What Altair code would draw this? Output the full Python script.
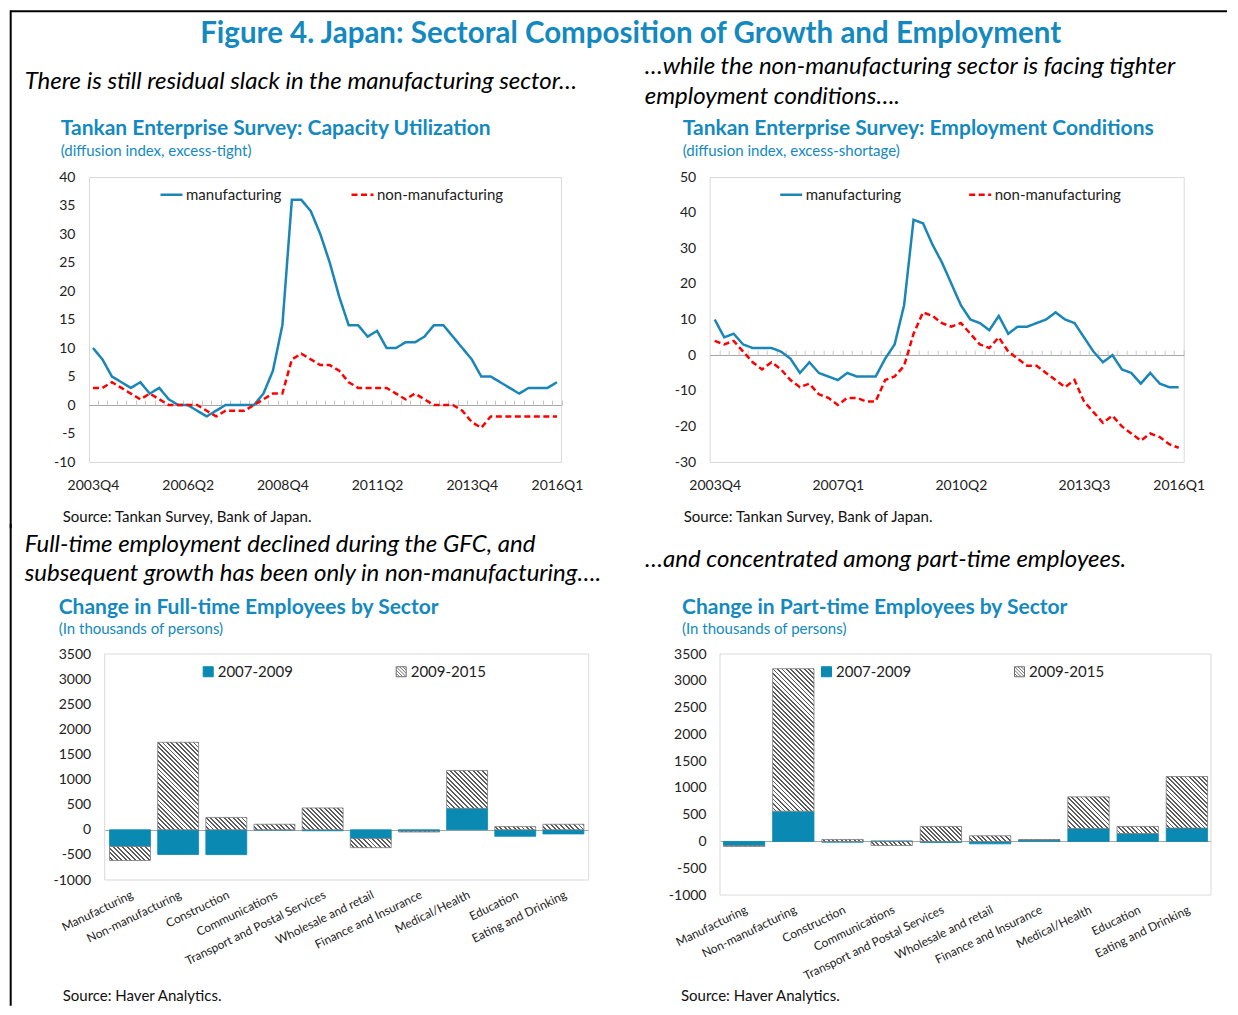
import altair as alt
import pandas as pd

# ---------------- data ----------------
quarters = ["2003Q4",
    "2004Q1", "2004Q2", "2004Q3", "2004Q4",
    "2005Q1", "2005Q2", "2005Q3", "2005Q4",
    "2006Q1", "2006Q2", "2006Q3", "2006Q4",
    "2007Q1", "2007Q2", "2007Q3", "2007Q4",
    "2008Q1", "2008Q2", "2008Q3", "2008Q4",
    "2009Q1", "2009Q2", "2009Q3", "2009Q4",
    "2010Q1", "2010Q2", "2010Q3", "2010Q4",
    "2011Q1", "2011Q2", "2011Q3", "2011Q4",
    "2012Q1", "2012Q2", "2012Q3", "2012Q4",
    "2013Q1", "2013Q2", "2013Q3", "2013Q4",
    "2014Q1", "2014Q2", "2014Q3", "2014Q4",
    "2015Q1", "2015Q2", "2015Q3", "2015Q4",
    "2016Q1"]
series_names = ["manufacturing", "non-manufacturing"]

cap_ticks = ["2003Q4", "2006Q2", "2008Q4", "2011Q2", "2013Q4", "2016Q1"]
emp_ticks = ["2003Q4", "2007Q1", "2010Q2", "2013Q3", "2016Q1"]

cap_mfg = [10, 8, 5, 4, 3, 4, 2, 3, 1, 0,
           0, -1, -2, -1, 0, 0, 0, 0, 2, 6,
           14, 36, 36, 34, 30, 25, 19, 14, 14, 12,
           13, 10, 10, 11, 11, 12, 14, 14, 12, 10,
           8, 5, 5, 4, 3, 2, 3, 3, 3, 4]
cap_non = [3, 3, 4, 3, 2, 1, 2, 1, 0, 0,
           0, 0, -1, -2, -1, -1, -1, 0, 1, 2,
           2, 8, 9, 8, 7, 7, 6, 4, 3, 3,
           3, 3, 2, 1, 2, 1, 0, 0, 0, -1,
           -3, -4, -2, -2, -2, -2, -2, -2, -2, -2]
cap_yticks = [-10, -5, 0, 5, 10, 15, 20, 25, 30, 35, 40]

emp_mfg = [10, 5, 6, 3, 2, 2, 2, 1, -1, -5,
           -2, -5, -6, -7, -5, -6, -6, -6, -1, 3,
           14, 38, 37, 31, 26, 20, 14, 10, 9, 7,
           11, 6, 8, 8, 9, 10, 12, 10, 9, 5,
           1, -2, 0, -4, -5, -8, -5, -8, -9, -9]
emp_non = [4, 3, 4, 1, -2, -4, -2, -4, -7, -9,
           -8, -11, -12, -14, -12, -12, -13, -13, -7, -6,
           -3, 6, 12, 11, 9, 8, 9, 6, 3, 2,
           5, 1, -1, -3, -3, -5, -7, -9, -7, -13,
           -16, -19, -17, -20, -22, -24, -22, -23, -25, -26]
emp_yticks = [-30, -20, -10, 0, 10, 20, 30, 40, 50]

sectors = ["Manufacturing", "Non-manufacturing", "Construction", "Communications",
           "Transport and Postal Services", "Wholesale and retail", "Finance and Insurance",
           "Medical/Health", "Education", "Eating and Drinking"]
periods = ["2007-2009", "2009-2015"]
ft_0709 = [-332, -492, -495, -5, -20, -176, -30, 428, -130, -83]
ft_0915 = [-280, 1742, 246, 110, 435, -180, -15, 752, 63, 110]
pt_0709 = [-80, 566, -15, 10, -20, -45, 25, 242, 149, 249]
pt_0915 = [-12, 2660, 37, -75, 280, 106, 10, 591, 131, 963]
bar_yticks = [-1000, -500, 0, 500, 1000, 1500, 2000, 2500, 3000, 3500]

# ---------------- style ----------------
FONT = "Lato"
TITLE_BLUE = "#1389bf"
LINE_BLUE = "#1a86b8"
BAR_BLUE = "#0a8ab3"
RED = "#ff0000"
AXIS_TXT = "#222222"
ZERO = "#a6a6a6"
FRAME = "#d9d9d9"
HATCH_COL = "#5c5c5c"
HATCH_PATH = ("M-1,-1H1V1H-1Z M-1,-0.33L0.33,1 M-1,0.33L-0.33,1 M-1,-1L1,1 "
              "M-0.33,-1L1,0.33 M0.33,-1L1,-0.33")
NUM_LABEL = "'' + datum.value"
ZERO_ONLY = {"condition": {"test": "datum.value === 0", "value": 1}, "value": 0}
CAP = 24      # italic captions
PT = 21       # panel titles
SUB = 15      # panel subtitles
SRC = 15      # source notes
AX = 14       # axis labels


def one():
    return pd.DataFrame({"a": [0]})


def txt(s, x, y, size, color="#000000", weight="normal", style="normal", align="left"):
    return alt.Chart(pd.DataFrame({"t": [s]})).mark_text(
        align=align, baseline="alphabetic", font=FONT, fontSize=size,
        fontWeight=weight, fontStyle=style, color=color
    ).encode(text="t:N", x=alt.value(x), y=alt.value(y))


def hrule(x1, x2, y):
    return alt.Chart(one()).mark_rule(color="#000000", strokeWidth=2, strokeJoin="round").encode(
        x=alt.value(x1), x2=alt.value(x2), y=alt.value(y))


def vrule(x, y1, y2):
    return alt.Chart(one()).mark_rule(
        color="#000000", strokeWidth=2, strokeCap="square", strokeJoin="round").encode(
        x=alt.value(x), y=alt.value(y1), y2=alt.value(y2))


def y_axis(values, offset=0):
    return alt.Axis(values=values, ticks=False, domain=False, grid=True, gridColor=ZERO,
                    gridWidth=1, gridOpacity=ZERO_ONLY, labelPadding=14, labelFontSize=AX,
                    labelFont=FONT, labelColor=AXIS_TXT, labelOverlap=False,
                    labelExpr=NUM_LABEL, offset=offset, title=None)


def line_panel(mfg, non, ticks, ydom, yvals, width, height, pad, legx, legy, colpad, decor):
    rows = []
    for q, m, n in zip(quarters, mfg, non):
        rows.append({"quarter": q, "series": series_names[0], "value": m})
        rows.append({"quarter": q, "series": series_names[1], "value": n})
    df = pd.DataFrame(rows)
    qdf = pd.DataFrame({"quarter": quarters})
    step = width / (len(quarters) - 1 + 2 * pad)
    zero_px = height * ydom[1] / (ydom[1] - ydom[0])
    xscale = alt.Scale(type="point", padding=pad)
    X = alt.X("quarter:O", sort=quarters, scale=xscale,
              axis=alt.Axis(values=ticks, labelAngle=0, ticks=False, domain=False, grid=False,
                            labelPadding=16, labelFontSize=AX, labelFont=FONT,
                            labelColor=AXIS_TXT, title=None))
    Y = alt.Y("value:Q", scale=alt.Scale(domain=ydom, nice=False, zero=False),
              axis=y_axis(yvals))
    leg = alt.Legend(orient="none", legendX=legx, legendY=legy, direction="horizontal",
                     title=None, labelFont=FONT, labelFontSize=15, labelColor=AXIS_TXT,
                     symbolType="stroke", symbolSize=484, symbolStrokeWidth=2.5,
                     labelOffset=2, columnPadding=colpad, padding=0)
    # small category tick marks sitting on the zero line
    tick_axis = alt.Axis(orient="top", offset=-zero_px, labels=False, domain=False, ticks=True,
                         tickSize=5, tickColor="#c8c8c8", tickWidth=1, tickOffset=step / 2,
                         grid=False, title=None)
    tks = alt.Chart(qdf).mark_point(opacity=0, size=1).encode(
        x=alt.X("quarter:O", sort=quarters, scale=xscale, axis=tick_axis), y=alt.value(0))
    lines = alt.Chart(df).mark_line(strokeWidth=2.5).encode(
        x=X, y=Y,
        color=alt.Color("series:N", scale=alt.Scale(domain=series_names, range=[LINE_BLUE, RED]),
                        legend=leg),
        strokeDash=alt.StrokeDash("series:N",
                                  scale=alt.Scale(domain=series_names, range=[[1, 0], [6, 3.5]]),
                                  legend=leg))
    return alt.layer(*decor, tks, lines).resolve_axis(x="independent").properties(
        width=width, height=height)


def hatch(w, h, period=4.5, frac=0.42):
    r = h / w
    k = (1 + r) / (1 + r * r)
    n = max(1, int(round((w + h) / period)))
    stops = []
    for i in range(n):
        a = i / n
        m = (i + 1 - frac) / n
        e = (i + 1) / n
        stops += [alt.GradientStop(color="#ffffff", offset=a),
                  alt.GradientStop(color="#ffffff", offset=m),
                  alt.GradientStop(color=HATCH_COL, offset=m),
                  alt.GradientStop(color=HATCH_COL, offset=e)]
    return alt.LinearGradient(gradient="linear", stops=stops, x1=0, y1=1, x2=k, y2=1 - k * r)


def bar_panel(v1, v2, plotw, height, shift, pi, po, legx, legy, lpad, decor):
    rows = []
    for c, a, b in zip(sectors, v1, v2):
        rows.append({"cat": c, "series": periods[0], "value": a, "ord": 0})
        rows.append({"cat": c, "series": periods[1], "value": b, "ord": 1})
    df = pd.DataFrame(rows)
    ydom = [bar_yticks[0], bar_yticks[-1]]
    base = alt.Chart(df).transform_stack(
        stack="value", groupby=["cat"], as_=["v0", "v1"],
        sort=[alt.SortField("ord", order="ascending")])
    X = alt.X("cat:N", sort=sectors,
              scale=alt.Scale(paddingInner=pi, paddingOuter=po, range=[shift, shift + plotw]),
              axis=alt.Axis(labelAngle=-26, labelAlign="right", labelBaseline="top",
                            ticks=False, domain=False, grid=False, labelPadding=lpad,
                            labelFontSize=12, labelFont=FONT, labelColor=AXIS_TXT,
                            labelLimit=400, title=None))
    Y = alt.Y("v0:Q", scale=alt.Scale(domain=ydom, nice=False, zero=False),
              axis=y_axis(bar_yticks, -shift))
    leg = alt.Legend(orient="none", legendX=legx + shift, legendY=legy, direction="horizontal",
                     title=None, labelFont=FONT, labelFontSize=15, labelColor=AXIS_TXT,
                     symbolType=HATCH_PATH, symbolSize=100, symbolStrokeWidth=1,
                     labelOffset=2, columnPadding=100, padding=0)
    frame = alt.Chart(one()).mark_rect(fill="#ffffff", fillOpacity=0, stroke=FRAME,
                                       strokeWidth=1).encode(
        x=alt.value(shift), x2=alt.value(shift + plotw), y=alt.value(0), y2=alt.value(height))
    blue = base.transform_filter(alt.datum.series == periods[0]).mark_bar(strokeWidth=0.8).encode(
        x=X, y=Y, y2=alt.Y2("v1"),
        fill=alt.Fill("series:N", scale=alt.Scale(domain=periods, range=[BAR_BLUE, "#ffffff"]),
                      legend=leg),
        stroke=alt.Stroke("series:N", scale=alt.Scale(domain=periods, range=[BAR_BLUE, "#6e6e6e"]),
                          legend=leg))
    step = plotw / (len(sectors) - pi + 2 * po)
    bw = step * (1 - pi)
    pxu = height / (ydom[1] - ydom[0])
    hatched = []
    for c, b in zip(sectors, v2):
        h = abs(b) * pxu
        if h < 0.5:
            continue
        hatched.append(
            base.transform_filter((alt.datum.cat == c) & (alt.datum.series == periods[1]))
            .mark_bar(fill=hatch(bw, h), stroke="#7a7a7a", strokeWidth=0.8)
            .encode(x=X, y=Y, y2=alt.Y2("v1")))
    return alt.layer(*decor, frame, blue, *hatched).properties(
        width=plotw + shift, height=height,
        view=alt.ViewBackground(stroke="transparent"))


# ---------------- panels ----------------
tl_decor = [
    hrule(-78.3, 1138, -165.7),
    vrule(-78.3, -165.7, 350.3),
    txt("Figure 4. Japan: Sectoral Composition of Growth and Employment", 541.7, -133.7, 29.5,
        TITLE_BLUE, "bold", align="center"),
    txt("There is still residual slack in the manufacturing sector\u2026", -64.3, -87.7, CAP,
        style="italic"),
    txt("Tankan Enterprise Survey: Capacity Utilization", -28.3, -42.2, PT, TITLE_BLUE, "bold"),
    txt("(diffusion index, excess-tight)", -28.3, -21.2, SUB, TITLE_BLUE),
    txt("Source: Tankan Survey, Bank of Japan.", -26.3, 344.8, SRC, "#111111"),
]
tr_decor = [
    txt("\u2026while the non-manufacturing sector is facing tighter", -65, -102.7, CAP,
        style="italic"),
    txt("employment conditions\u2026.", -65, -72.7, CAP, style="italic"),
    txt("Tankan Enterprise Survey: Employment Conditions", -27, -42.2, PT, TITLE_BLUE, "bold"),
    txt("(diffusion index, excess-shortage)", -27, -21.2, SUB, TITLE_BLUE),
    txt("Source: Tankan Survey, Bank of Japan.", -26, 345.3, SRC, "#111111"),
]
bl_decor = [
    vrule(-78.3, -129.3, 350.7),
    txt("Full-time employment declined during the GFC, and", -64.3, -102.5, CAP, style="italic"),
    txt("subsequent growth has been only in non-manufacturing\u2026.", -64.3, -72.8, CAP,
        style="italic"),
    txt("Change in Full-time Employees by Sector", -30.3, -40.3, PT, TITLE_BLUE, "bold"),
    txt("(In thousands of persons)", -30.3, -20.3, SUB, TITLE_BLUE),
    txt("Source: Haver Analytics.", -26.3, 347.2, SRC, "#111111"),
]
br_decor = [
    txt("\u2026and concentrated among part-time employees.", -75, -87.3, CAP, style="italic"),
    txt("Change in Part-time Employees by Sector", -38, -40.3, PT, TITLE_BLUE, "bold"),
    txt("(In thousands of persons)", -38, -20.3, SUB, TITLE_BLUE),
    txt("Source: Haver Analytics.", -39, 347.2, SRC, "#111111"),
]

tl = line_panel(cap_mfg, cap_non, cap_ticks, [-10, 40], cap_yticks, 472, 285, 0.42,
                70, 5, 64, tl_decor)
tr = line_panel(emp_mfg, emp_non, emp_ticks, [-30, 50], emp_yticks, 474, 285, 0.53,
                69, 5, 62, tr_decor)
bl = bar_panel(ft_0709, ft_0915, 484, 226, 15.7, 0.15, 0.1, 96, 10, 9, bl_decor)
br = bar_panel(pt_0709, pt_0915, 491, 241, 0, 0.16, 0.07, 99, 10, 9, br_decor)

row1 = alt.hconcat(tl, tr, spacing=148.7, bounds="flush").resolve_scale(
    color="independent", strokeDash="independent")
row2 = alt.hconcat(bl, br, spacing=131, bounds="flush").resolve_scale(
    fill="independent", stroke="independent")

chart = alt.vconcat(row1, row2, spacing=-8).resolve_scale(
    color="independent", strokeDash="independent", fill="independent", stroke="independent"
).properties(
    padding={"left": 0, "top": 1, "right": 0, "bottom": 0}
).configure_view(stroke=FRAME, strokeWidth=1).configure_text(font=FONT)

chart.save("out.html", embed_options={"renderer": "svg", "actions": False})
